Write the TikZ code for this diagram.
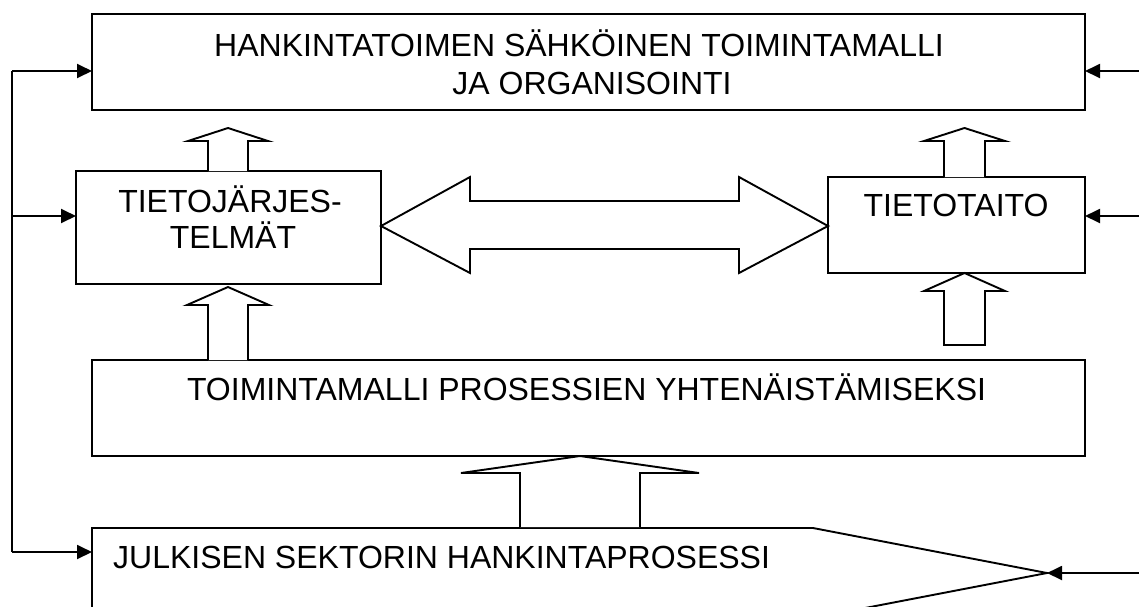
\documentclass[tikz,border=0pt]{standalone}
\usepackage{fontspec}
\setmainfont{Liberation Sans}
\usetikzlibrary{arrows.meta,calc}
\begin{document}
\begin{tikzpicture}[x=1pt,y=-1pt,
  box/.style={draw,line width=1.9pt,inner sep=0pt,outer sep=0pt},
  lbl/.style={inner sep=0pt,anchor=base,font=\fontsize{32}{38}\selectfont},
  blockarrow/.style={draw,line width=1.9pt,line join=miter,fill=white},
  thin/.style={line width=1.9pt},
  arr/.style={thin,-{Triangle[length=15pt,width=14pt]}}]
\useasboundingbox (0,0) rectangle (1139,606);
\clip (0,0) rectangle (1139,606);

% boxes
\node[box,minimum width=993pt,minimum height=96pt] (top) at (588.5,62) {};
\node[box,minimum width=305pt,minimum height=113pt] (tiet) at (228.5,227.5) {};
\node[box,minimum width=257pt,minimum height=96pt] (tait) at (956.5,225) {};
\node[box,minimum width=993pt,minimum height=96pt] (toim) at (588.5,408) {};

% pentagon (cut off at bottom)
\coordinate (pTL) at (92,528);
\coordinate (pTR) at (813,528);
\coordinate (pTip) at (1047,573);
\coordinate (pBR) at (813,618);
\coordinate (pBL) at (92,640);
\draw[line width=1.9pt,line join=miter] (pBL) -- (pTL) -- (pTR) -- (pTip) -- (pBR) -- (pBL);

% labels
\node[lbl] (t1) at (579,56) {HANKINTATOIMEN SÄHKÖINEN TOIMINTAMALLI};
\node[lbl] (t2) at (592,94) {JA ORGANISOINTI};
\node[lbl] (j1) at (230,212) {TIETOJÄRJES-};
\node[lbl] (j2) at (233,248) {TELMÄT};
\node[lbl] (k1) at (956,216) {TIETOTAITO};
\node[lbl] (m1) at (586.5,400) {TOIMINTAMALLI PROSESSIEN YHTENÄISTÄMISEKSI};
\node[lbl,anchor=base west] (p1) at (113,568) {JULKISEN SEKTORIN HANKINTAPROSESSI};

% block arrows
\draw[blockarrow] (208,171) -- (208,141) -- (188,141) -- (228,128) -- (268,141) -- (248,141) -- (248,171);
\draw[blockarrow] (944,177) -- (944,141) -- (924,141) -- (964.5,128) -- (1005,141) -- (985,141) -- (985,177);
\draw[blockarrow] (208,360) -- (208,305) -- (187,305) -- (228,287) -- (269,305) -- (248,305) -- (248,360);
\draw[blockarrow] (944,345) -- (944,291) -- (924,291) -- (964.5,273) -- (1005,291) -- (985,291) -- (985,345) -- cycle;
\draw[blockarrow] (520,527) -- (520,473) -- (461,473) -- (580,456) -- (699,473) -- (640,473) -- (640,527);
\draw[blockarrow] (tiet.east |- 0,226) -- (470,177) -- (470,201) -- (739,201) -- (739,177) -- (tait.west |- 0,226) -- (739,273) -- (739,249) -- (470,249) -- (470,273) -- cycle;

% feedback lines on the left
\coordinate (L1) at (12,71);
\coordinate (L2) at (12,216);
\coordinate (L3) at (12,552);
\draw[thin] (L1) -- (L3);
\draw[arr] (L1) -- (top.west |- L1);
\draw[arr] (L2) -- (tiet.west |- L2);
\draw[arr] (L3) -- (pTL |- L3);

% inputs on the right
\coordinate (R1) at (1139,71);
\coordinate (R2) at (1139,216);
\coordinate (R3) at (1139,573);
\draw[arr] (R1) -- (top.east |- R1);
\draw[arr] (R2) -- (tait.east |- R2);
\draw[arr] (R3) -- (pTip);
\end{tikzpicture}
\end{document}
